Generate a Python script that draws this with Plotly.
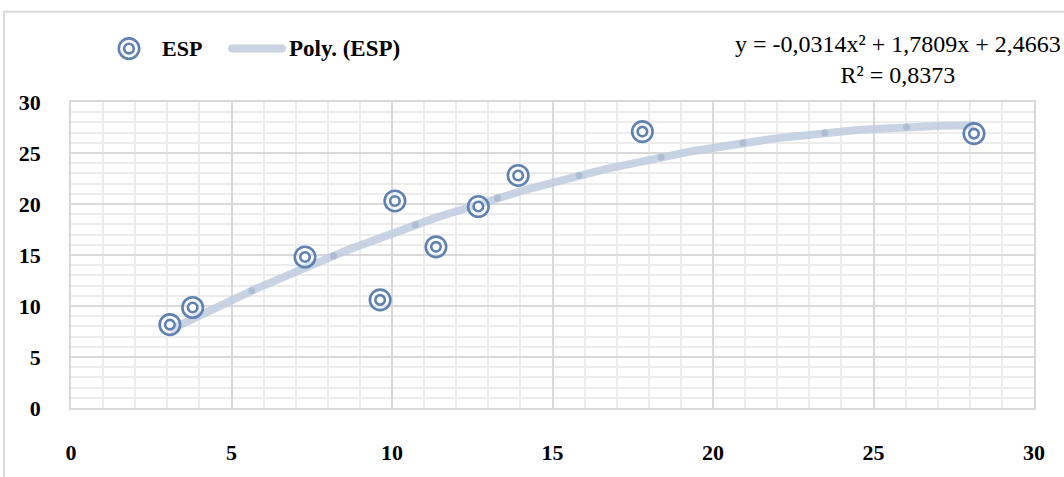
import numpy as np
import plotly.graph_objects as go

# ESP observations
esp_x = [3.08, 3.79, 7.29, 9.63, 10.09, 11.37, 12.69, 13.93, 17.80, 28.13]
esp_y = [8.17, 9.85, 14.80, 10.60, 20.30, 15.80, 19.75, 22.80, 27.10, 26.90]

# second-order polynomial fit: a*x^2 + b*x + c
poly_coef = [-0.0314, 1.7809, 2.4663]
r_squared = 0.8373

x_ticks = [0, 5, 10, 15, 20, 25, 30]
y_ticks = [0, 5, 10, 15, 20, 25, 30]

RING = "#6082b0"
TREND = "rgba(190,204,222,0.85)"
TREND_JOINT = "#aebdd2"
FONT = "Liberation Serif"


def poly(x):
    a, b, c = poly_coef
    return a * x ** 2 + b * x + c


def fmt(v):
    return f"{v:.4f}".replace(".", ",")


x_lo, x_hi = min(esp_x), max(esp_x)
curve_x = np.linspace(x_lo, x_hi, 200)
curve_y = poly(curve_x)
joint_step = 2.55
joint_x = np.arange(x_lo + joint_step, x_hi, joint_step)
joint_y = poly(joint_x)

fig = go.Figure()

fig.add_trace(go.Scatter(
    x=curve_x, y=curve_y, mode="lines",
    line=dict(color=TREND, width=8),
    showlegend=False, hoverinfo="skip",
))
fig.add_trace(go.Scatter(
    x=joint_x, y=joint_y, mode="markers",
    marker=dict(color=TREND_JOINT, size=7),
    showlegend=False, hoverinfo="skip",
))
# double-ring markers: outer and inner ring
fig.add_trace(go.Scatter(
    x=esp_x, y=esp_y, mode="markers",
    marker=dict(symbol="circle", size=20.5, color="rgba(255,255,255,0.25)",
                line=dict(color=RING, width=2.6)),
    showlegend=False,
))
fig.add_trace(go.Scatter(
    x=esp_x, y=esp_y, mode="markers",
    marker=dict(symbol="circle", size=9.5, color="white",
                line=dict(color=RING, width=2.6)),
    showlegend=False,
))

axis_common = dict(
    showgrid=True, gridcolor="#d9d9d9", gridwidth=1.5,
    zeroline=False, showline=True, linecolor="#d9d9d9", linewidth=1.5, mirror=True,
    ticks="", tickfont=dict(family=FONT, size=22, color="#000000", weight="bold"),
)

fig.update_xaxes(
    range=[0, 30], tickvals=x_ticks, ticktext=[str(v) for v in x_ticks],
    minor=dict(dtick=1, showgrid=True, gridcolor="#ececec", gridwidth=2),
    ticklabelstandoff=24,
    **axis_common,
)
fig.update_yaxes(
    range=[0, 30], tickvals=y_ticks, ticktext=[str(v) for v in y_ticks],
    minor=dict(dtick=1, showgrid=True, gridcolor="#ececec", gridwidth=2),
    ticklabelstandoff=24,
    **axis_common,
)

W, H = 1064, 477
L, R, T, B = 71, 30, 102, 60
pw, ph = W - L - R, H - T - B


def px(xp):
    return (xp - L) / pw


def py(yp):
    return (H - B - yp) / ph


shapes = [
    # chart frame
    dict(type="rect", xref="paper", yref="paper",
         x0=px(4), x1=px(1080), y0=py(495), y1=py(9),
         line=dict(color="#d9d9d9", width=2), fillcolor="rgba(0,0,0,0)", layer="below"),
    # legend: trend line sample
    dict(type="line", xref="paper", yref="paper",
         x0=px(232), x1=px(282), y0=py(47), y1=py(47),
         line=dict(color="#c9d4e2", width=8)),
    dict(type="circle", xref="paper", yref="paper", xsizemode="pixel", ysizemode="pixel",
         xanchor=px(232), yanchor=py(47), x0=-4, x1=4, y0=-4, y1=4,
         fillcolor="#c9d4e2", line=dict(width=0)),
    dict(type="circle", xref="paper", yref="paper", xsizemode="pixel", ysizemode="pixel",
         xanchor=px(282), yanchor=py(47), x0=-4, x1=4, y0=-4, y1=4,
         fillcolor="#c9d4e2", line=dict(width=0)),
    # legend: double ring
    dict(type="circle", xref="paper", yref="paper", xsizemode="pixel", ysizemode="pixel",
         xanchor=px(129), yanchor=py(47), x0=-10.2, x1=10.2, y0=-10.2, y1=10.2,
         fillcolor="rgba(0,0,0,0)", line=dict(color=RING, width=2.6)),
    dict(type="circle", xref="paper", yref="paper", xsizemode="pixel", ysizemode="pixel",
         xanchor=px(129), yanchor=py(47), x0=-4.8, x1=4.8, y0=-4.8, y1=4.8,
         fillcolor="rgba(0,0,0,0)", line=dict(color=RING, width=2.6)),
]

a, b, c = poly_coef
eq_text = (f"y = {fmt(a)}x² + {fmt(b)}x + {fmt(c)}<br>R² = {fmt(r_squared)}")

annotations = [
    dict(text="<b>ESP</b>", xref="paper", yref="paper", x=px(160), y=py(47),
         xanchor="left", yanchor="middle", showarrow=False,
         font=dict(family=FONT, size=22, color="#000000")),
    dict(text="<b>Poly. (ESP)</b>", xref="paper", yref="paper", x=px(287), y=py(47),
         xanchor="left", yanchor="middle", showarrow=False,
         font=dict(family=FONT, size=23, color="#000000")),
    dict(text=eq_text, xref="paper", yref="paper", x=px(1063), y=py(27),
         xanchor="right", yanchor="top", align="center", showarrow=False,
         font=dict(family=FONT, size=24, color="#000000")),
]

fig.update_layout(
    width=W, height=H,
    margin=dict(l=L, r=R, t=T, b=B),
    paper_bgcolor="white", plot_bgcolor="white",
    showlegend=False,
    shapes=shapes, annotations=annotations,
)

fig.write_html("out.html")
